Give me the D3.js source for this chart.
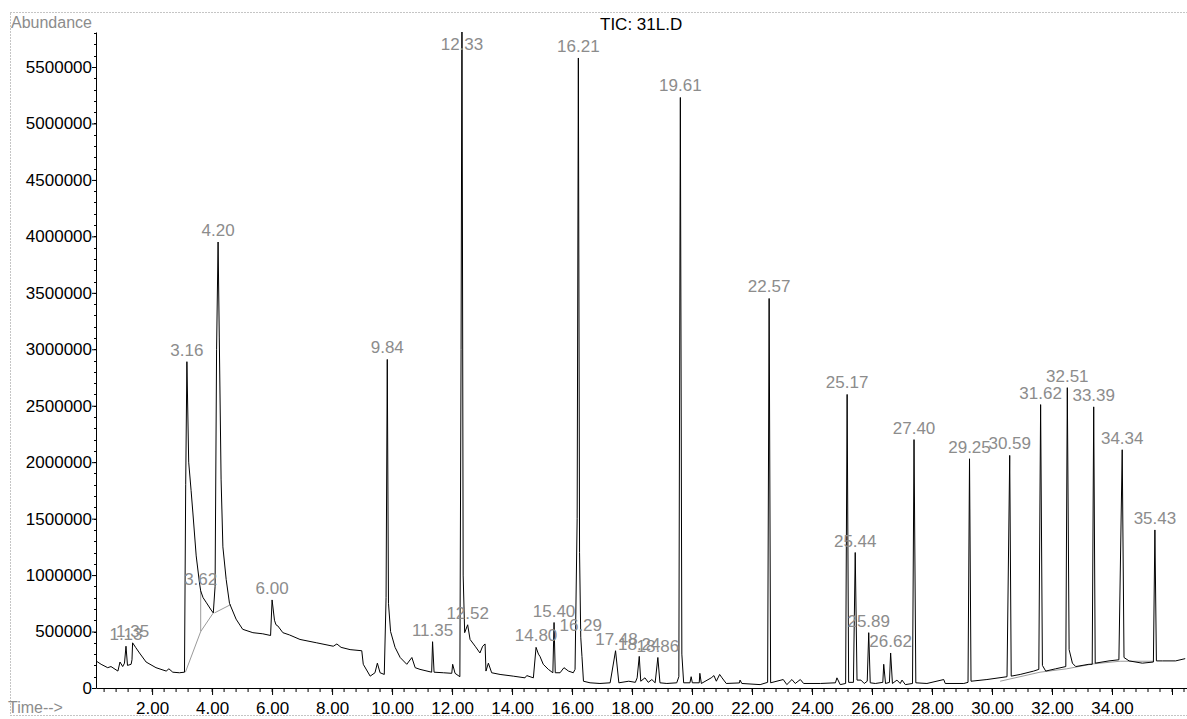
<!DOCTYPE html>
<html>
<head>
<meta charset="UTF-8">
<title>TIC: 31L.D</title>
<script src="https://cdn.jsdelivr.net/npm/d3@7"></script>
<style>
  body { margin: 0; background: #fff; }
  svg text { font-family: "Liberation Sans", Arial, sans-serif; }
</style>
</head>
<body>
<svg width="1187" height="719"></svg>
<script>
// retention time (min) / abundance of the TIC trace
var times = [
  0.13,0.30,0.52,0.63,0.86,0.93,1.02,1.08,1.13,1.18,1.30,1.33,1.35,1.45,1.58,1.80,2.13,2.47,2.56,2.69,2.91,3.08,
  3.12,3.16,3.22,3.30,3.36,3.47,3.58,3.62,3.70,3.80,3.97,4.04,4.10,4.15,4.20,4.24,4.30,4.36,4.47,4.58,4.80,5.02,5.36,5.69,5.95,
  6.00,6.08,6.13,6.19,6.36,6.58,6.93,7.49,8.04,8.16,8.30,8.60,8.99,9.04,9.27,9.43,9.51,9.60,9.74,9.80,9.84,9.88,9.95,
  10.10,10.27,10.49,10.66,10.77,10.93,11.32,11.35,11.40,11.71,11.99,12.02,12.10,12.26,12.30,12.33,12.37,12.42,12.52,12.60,12.77,12.93,
  13.02,13.10,13.13,13.21,13.32,13.60,14.04,14.43,14.49,14.71,14.80,14.88,14.93,15.04,15.21,15.36,15.40,15.44,15.60,15.73,15.88,
  16.04,16.10,16.17,16.21,16.25,16.29,16.33,16.38,16.60,16.93,17.27,17.45,17.56,17.89,18.11,18.17,18.24,18.29,18.43,18.54,18.66,18.77,18.86,18.93,
  19.16,19.49,19.56,19.61,19.66,19.72,19.93,19.97,20.01,20.24,20.26,20.31,20.64,20.73,20.81,20.92,21.00,21.14,21.58,21.60,21.66,
  22.27,22.52,22.57,22.62,23.04,23.16,23.33,23.44,23.61,23.72,24.28,24.78,24.83,24.94,25.12,25.17,25.22,25.38,25.44,25.50,25.63,25.74,25.84,25.89,25.94,
  26.11,26.36,26.39,26.45,26.58,26.62,26.68,26.83,26.94,27.00,27.11,27.35,27.40,27.46,27.83,28.39,28.44,29.06,29.20,29.25,29.30,29.83,
  30.50,30.59,30.64,30.94,31.39,31.56,31.62,31.68,31.79,32.12,32.46,32.51,32.57,32.68,32.79,33.23,33.34,33.39,33.44,33.90,
  34.23,34.34,34.40,34.57,35.01,35.38,35.43,35.48,35.68,36.12,36.44
];
var abundance = [
  240000,210000,180000,190000,150000,230000,190000,220000,370000,200000,210000,250000,400000,360000,310000,230000,180000,150000,170000,140000,135000,140000,
  1800000,2890000,2000000,1750000,1550000,1170000,930000,860000,800000,760000,690000,665000,900000,3000000,3950000,3100000,1850000,1250000,960000,750000,610000,520000,490000,480000,465000,
  780000,600000,560000,550000,490000,470000,430000,400000,370000,390000,360000,340000,330000,210000,105000,135000,220000,135000,120000,800000,2910000,750000,500000,
  360000,270000,210000,270000,180000,165000,140000,410000,140000,135000,130000,210000,130000,100000,3000000,6100000,1000000,490000,560000,430000,370000,310000,
  370000,390000,150000,220000,135000,120000,105000,90000,110000,90000,360000,300000,280000,210000,165000,135000,580000,135000,135000,180000,150000,
  135000,165000,1500000,5580000,1200000,450000,280000,60000,46000,40000,46000,330000,46000,60000,50000,90000,280000,60000,90000,50000,75000,46000,270000,46000,
  40000,46000,100000,5230000,300000,46000,46000,100000,46000,46000,130000,40000,90000,110000,60000,120000,90000,40000,45000,70000,40000,
  30000,50000,3450000,46000,75000,30000,75000,40000,75000,40000,40000,46000,90000,30000,40000,2600000,50000,50000,1200000,70000,70000,40000,60000,490000,46000,
  40000,50000,210000,40000,50000,310000,40000,70000,40000,70000,30000,40000,2200000,46000,40000,75000,40000,40000,50000,2030000,60000,75000,
  100000,2060000,105000,120000,150000,165000,2510000,200000,150000,170000,190000,2660000,340000,220000,190000,210000,210000,2490000,220000,240000,
  250000,2110000,270000,240000,220000,230000,1400000,240000,240000,240000,260000
];

// integrated peaks (labels printed by the data system)
var peakLabels = ["1.13","1.35","3.16","3.62","4.20","6.00","9.84","11.35","12.33","12.52","14.80","15.40",
  "16.21","16.29","17.48","18.24","18.86","19.61","22.57","25.17","25.44","25.89","26.62","27.40",
  "29.25","30.59","31.62","32.51","33.39","34.34","35.43"];

// grey integration baselines
var baseTimes = [[3.11,3.62,4.04],[4.08,4.63],[3.62,3.62],[30.27,31.60,32.49,33.38,34.27,35.38]];
var baseValues = [[140000,500000,665000],[665000,740000],[500000,860000],[60000,140000,170000,214000,237000,237000]];

var yTicks = [0,500000,1000000,1500000,2000000,2500000,3000000,3500000,4000000,4500000,5000000,5500000];
var xTicks = [2,4,6,8,10,12,14,16,18,20,22,24,26,28,30,32,34,36];
var xTickLabels = ["2.00","4.00","6.00","8.00","10.00","12.00","14.00","16.00","18.00","20.00","22.00","24.00","26.00","28.00","30.00","32.00","34.00",""];

var svg = d3.select("svg");
var plot = {left: 96, right: 1187, top: 32, bottom: 688};

var x = d3.scaleLinear().domain([0.13, 36.5]).range([plot.left, plot.right]);
var y = d3.scaleLinear().domain([0, 5810000]).range([plot.bottom, plot.top]);

// dotted frame of the print
svg.append("rect")
  .attr("x", 10.5).attr("y", 12.5)
  .attr("width", 1200).attr("height", 703)
  .attr("fill", "none")
  .attr("stroke", "#8a8a8a")
  .attr("stroke-dasharray", "1,2");

svg.append("clipPath").attr("id", "clip")
  .append("rect")
  .attr("x", plot.left).attr("y", plot.top)
  .attr("width", plot.right - plot.left).attr("height", plot.bottom - plot.top + 1);

// minor ticks
var minorY = d3.range(0, 5810000, 100000);
svg.append("g").selectAll("line")
  .data(minorY).enter().append("line")
  .attr("x1", plot.left - 2).attr("x2", plot.left)
  .attr("y1", function(d) { return Math.round(y(d)) + 0.5; })
  .attr("y2", function(d) { return Math.round(y(d)) + 0.5; })
  .attr("stroke", "#000");

var minorX = d3.range(1, 92).map(function(i) { return i * 0.4; });
svg.append("g").selectAll("line")
  .data(minorX).enter().append("line")
  .attr("x1", function(d) { return x(d); })
  .attr("x2", function(d) { return x(d); })
  .attr("y1", plot.bottom).attr("y2", plot.bottom + 4)
  .attr("stroke", "#000");

// axes
var yAxis = svg.append("g")
  .attr("transform", "translate(" + plot.left + ",0)")
  .call(d3.axisLeft(y).tickValues(yTicks).tickFormat(d3.format("d")).tickSize(4).tickSizeOuter(0).tickPadding(0));
yAxis.selectAll("text").attr("font-size", 17).attr("font-family", "Liberation Sans, Arial, sans-serif").attr("fill", "#000");

var xAxis = svg.append("g")
  .attr("transform", "translate(0," + plot.bottom + ")")
  .call(d3.axisBottom(x).tickValues(xTicks)
    .tickFormat(function(d, i) { return xTickLabels[i]; })
    .tickSize(7).tickSizeOuter(0).tickPadding(7));
xAxis.selectAll("text").attr("font-size", 17).attr("font-family", "Liberation Sans, Arial, sans-serif").attr("fill", "#000");

// grey baselines
var line = d3.line()
  .x(function(d) { return x(d[0]); })
  .y(function(d) { return y(d[1]); });

svg.append("g").attr("clip-path", "url(#clip)")
  .selectAll("path")
  .data(baseTimes.map(function(ts, i) {
    return ts.map(function(t, j) { return [t, baseValues[i][j]]; });
  }))
  .enter().append("path")
  .attr("d", line)
  .attr("fill", "none")
  .attr("stroke", "#9a9a9a")
  .attr("stroke-width", 1);

// TIC trace
var trace = times.map(function(t, i) { return [t, abundance[i]]; });
svg.append("path")
  .datum(trace)
  .attr("clip-path", "url(#clip)")
  .attr("d", line)
  .attr("fill", "none")
  .attr("stroke", "#000")
  .attr("stroke-width", 1)
  .attr("stroke-linejoin", "miter");

// peak labels
var labels = peakLabels.map(function(s) {
  var t = +s;
  var p = d3.least(trace, function(d) { return Math.abs(d[0] - t); });
  return {text: s, t: t, v: p[1]};
});
svg.append("g").selectAll("text")
  .data(labels).enter().append("text")
  .attr("x", function(d) { return x(d.t); })
  .attr("y", function(d) { return Math.max(y(d.v) - 6, 50); })
  .attr("text-anchor", "middle")
  .attr("font-size", 17)
  .attr("fill", "#8c8c8c")
  .text(function(d) { return d.text; });

// header texts
svg.append("text").attr("x", 11).attr("y", 28)
  .attr("font-size", 16).attr("fill", "#8c8c8c").text("Abundance");
svg.append("text").attr("x", 600).attr("y", 30)
  .attr("font-size", 17).attr("fill", "#000").text("TIC: 31L.D");
svg.append("text").attr("x", 8).attr("y", 713)
  .attr("font-size", 16).attr("fill", "#8c8c8c").text("Time-->");
</script>
</body>
</html>
